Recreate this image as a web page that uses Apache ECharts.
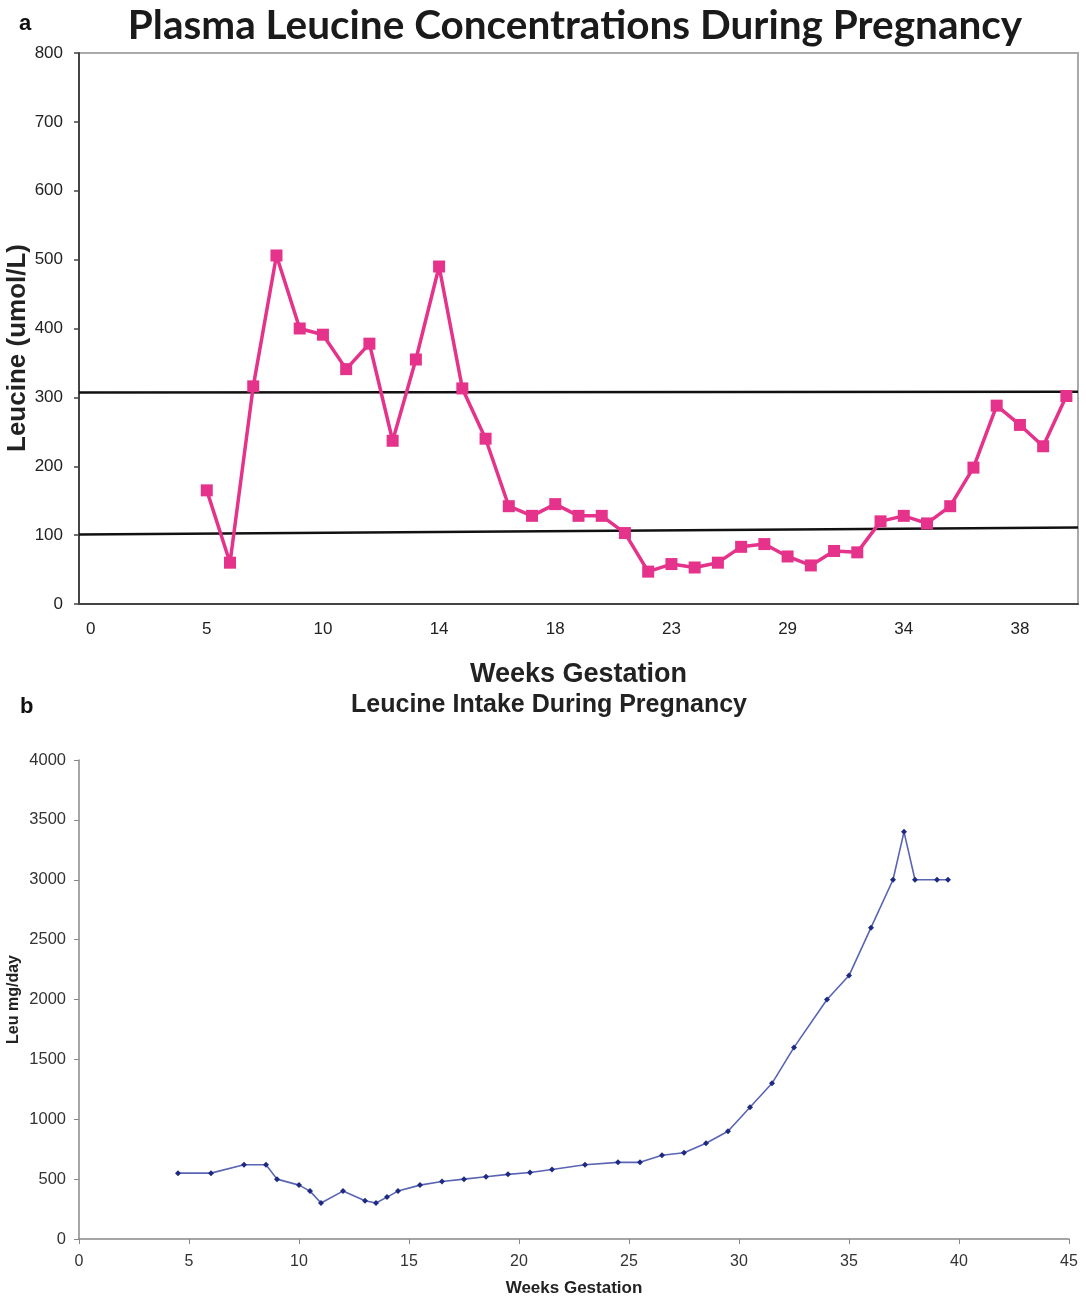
<!DOCTYPE html>
<html>
<head>
<meta charset="utf-8">
<script src="https://cdn.jsdelivr.net/npm/echarts@6/dist/echarts.min.js"></script>
<style>
html,body{margin:0;padding:0;background:#fff;}
#chart{width:1086px;height:1300px;}
</style>
</head>
<body>
<div id="chart"></div>
<script>
// Panel a: plasma leucine (category axis of visits)
const weekCategories = ["0","1","2","3","4","5","6","7","8","9","10","11","12","13","13.5","14","15","16","17","17.5","18","19","20","21","22","23","24","26","27","28","29","30","31","32","33","34","35","36","37","37.5","38","39","40"];
const plasmaLeucine = [null,null,null,null,null,165,60,316,506,400,391,341,378,237,355,490,313,240,142,128,145,128,128,103,47,58,53,60,83,87,69,56,77,75,120,128,117,142,198,288,260,229,302];
// reference range lines (value at left edge, value at right edge)
const refEdges = [0, 43];
const upperRef = [307, 308];
const lowerRef = [101, 111];

// Panel b: leucine intake
const intakeWeeks = [4.5,6,7.5,8.5,9,10,10.5,11,12,13,13.5,14,14.5,15.5,16.5,17.5,18.5,19.5,20.5,21.5,23,24.5,25.5,26.5,27.5,28.5,29.5,30.5,31.5,32.5,34,35,36,37,37.5,38,39,39.5];
const intakeMg = [550,550,620,620,500,450,400,300,400,320,300,350,400,450,480,500,520,540,555,580,620,640,640,700,720,800,900,1100,1300,1600,2000,2200,2600,3000,3400,3000,3000,3000];

const chart = echarts.init(document.getElementById('chart'));
const F = 'Liberation Sans, Arial, sans-serif';
const plain = v => String(v);

const option = {
  backgroundColor: '#fff',
  animation: false,
  title: [
    {text: 'Plasma Leucine Concentrations During Pregnancy', left: 570, top: 0, textAlign: 'center',
     textStyle: {fontFamily: 'Lato, sans-serif', fontWeight: 'bold', fontSize: 40.5, color: '#1a1a1a'}},
    {text: 'a', left: 14, top: 8, textStyle: {fontFamily: F, fontWeight: 'bold', fontSize: 22, color: '#111'}},
    {text: 'b', left: 15, top: 691, textStyle: {fontFamily: F, fontWeight: 'bold', fontSize: 22, color: '#111'}},
    {text: 'Leucine Intake During Pregnancy', left: 544, top: 688, textAlign: 'center',
     textStyle: {fontFamily: F, fontWeight: 'bold', fontSize: 25, color: '#222'}}
  ],
  graphic: [
    {type: 'text', x: 18, y: 348, rotation: Math.PI / 2,
     style: {text: 'Leucine (umol/L)', align: 'center', verticalAlign: 'middle',
             font: 'bold 26px Liberation Sans, Arial, sans-serif', fill: '#222'}}
  ],
  grid: [
    {left: 79, right: 8, top: 53, height: 551, show: true, borderColor: '#aaa', borderWidth: 2,
     backgroundColor: 'transparent', containLabel: false, outerBoundsMode: 'none'},
    {left: 79, right: 17, top: 760, height: 479, containLabel: false, outerBoundsMode: 'none'}
  ],
  xAxis: [
    {type: 'category', gridIndex: 0, data: weekCategories, boundaryGap: true,
     name: 'Weeks Gestation', nameLocation: 'middle', nameGap: 57,
     nameTextStyle: {fontFamily: F, fontWeight: 'bold', fontSize: 27, color: '#222'},
     axisLine: {lineStyle: {color: '#444', width: 2}},
     axisTick: {interval: 4, length: 5, lineStyle: {color: '#444', width: 1.5}},
     axisLabel: {interval: 4, fontFamily: F, fontSize: 17, color: '#222', margin: 17},
     splitLine: {show: false}},
    {type: 'value', gridIndex: 0, min: refEdges[0], max: refEdges[1], show: false},
    {type: 'value', gridIndex: 1, min: 0, max: 45, interval: 5,
     name: 'Weeks Gestation', nameLocation: 'middle', nameGap: 41,
     nameTextStyle: {fontFamily: F, fontWeight: 'bold', fontSize: 17, color: '#222'},
     axisLine: {lineStyle: {color: '#888', width: 1.5}},
     axisTick: {show: true, length: 5, lineStyle: {color: '#888'}},
     axisLabel: {fontFamily: F, fontSize: 16, color: '#333', margin: 15, formatter: plain},
     splitLine: {show: false}}
  ],
  yAxis: [
    {type: 'value', gridIndex: 0, min: 0, max: 800, interval: 100,
     axisLine: {show: true, lineStyle: {color: '#444', width: 2}},
     axisTick: {show: true, length: 5, lineStyle: {color: '#444', width: 1.5}},
     axisLabel: {fontFamily: F, fontSize: 17, color: '#222', margin: 16, formatter: plain},
     splitLine: {show: false}},
    {type: 'value', gridIndex: 1, min: 0, max: 4000, interval: 500,
     name: 'Leu mg/day', nameLocation: 'middle', nameGap: 57, nameMoveOverlap: false,
     nameTextStyle: {fontFamily: F, fontWeight: 'bold', fontSize: 16, color: '#222'},
     axisLine: {show: true, lineStyle: {color: '#888', width: 1.5}},
     axisTick: {show: true, length: 5, lineStyle: {color: '#888'}},
     axisLabel: {fontFamily: F, fontSize: 16.5, color: '#333', margin: 13, formatter: plain},
     splitLine: {show: false}}
  ],
  series: [
    {type: 'line', xAxisIndex: 1, yAxisIndex: 0, data: refEdges.map((x, i) => [x, upperRef[i]]),
     symbol: 'none', lineStyle: {color: '#111', width: 2.5}, z: 1},
    {type: 'line', xAxisIndex: 1, yAxisIndex: 0, data: refEdges.map((x, i) => [x, lowerRef[i]]),
     symbol: 'none', lineStyle: {color: '#111', width: 2.5}, z: 1},
    {type: 'line', xAxisIndex: 0, yAxisIndex: 0, data: plasmaLeucine, connectNulls: false,
     symbol: 'rect', symbolSize: 12, itemStyle: {color: '#E5328A'},
     lineStyle: {color: '#E5328A', width: 3.5}, z: 3},
    {type: 'line', xAxisIndex: 2, yAxisIndex: 1, data: intakeWeeks.map((w, i) => [w, intakeMg[i]]),
     symbol: 'diamond', symbolSize: 6, itemStyle: {color: '#1E2A80'},
     lineStyle: {color: '#5A64B4', width: 1.6}}
  ]
};
chart.setOption(option);
</script>
</body>
</html>
